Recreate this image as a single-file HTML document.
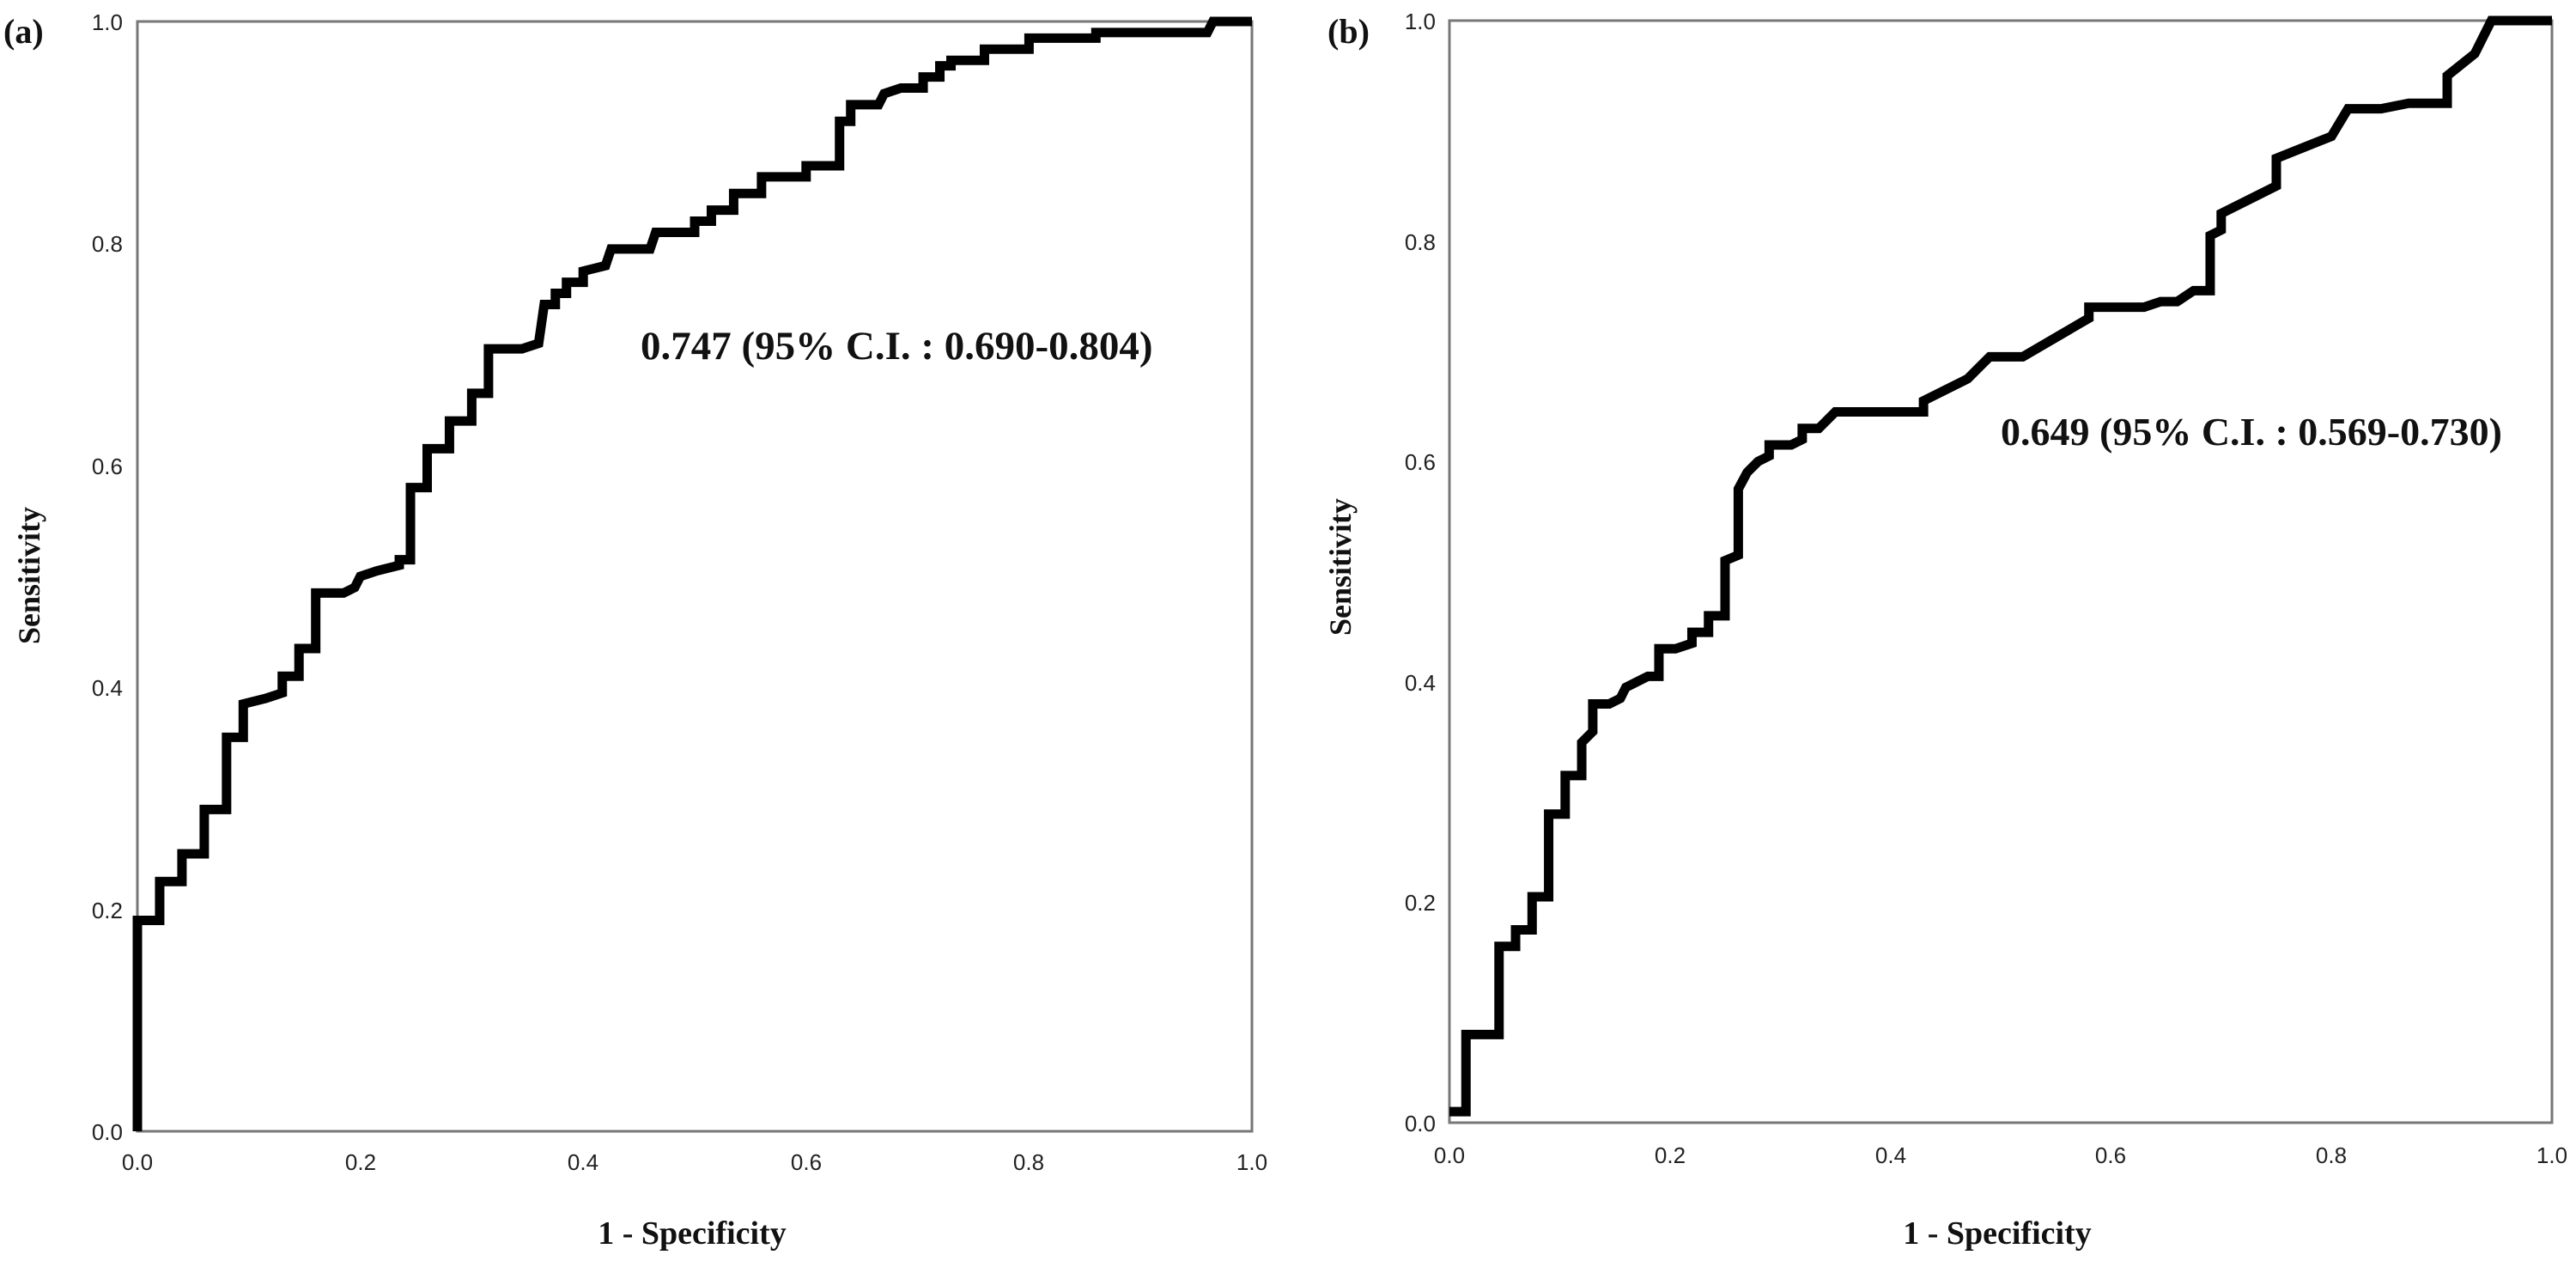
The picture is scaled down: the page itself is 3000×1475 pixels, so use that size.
<!DOCTYPE html>
<html><head><meta charset="utf-8"><style>
html,body{margin:0;padding:0;background:#fff;}
svg{display:block}
.t{font-family:"Liberation Sans",Arial,sans-serif;font-size:26px;fill:#222}
.b{font-family:"Liberation Serif","Times New Roman",serif;font-weight:bold;fill:#111}
</style></head><body>
<svg width="3000" height="1475" viewBox="0 0 3000 1475" xmlns="http://www.w3.org/2000/svg">
<!-- Panel a -->
<rect x="160" y="25" width="1298" height="1292" fill="none" stroke="#777" stroke-width="3"/>
<g transform="translate(160,1317) scale(1298,-1292)">
<polyline fill="none" stroke="#000" stroke-width="11" vector-effect="non-scaling-stroke" stroke-linejoin="miter" points="0,0 0,0.19 0.02,0.19 0.02,0.225 0.04,0.225 0.04,0.25 0.06,0.25 0.06,0.29 0.08,0.29 0.08,0.355 0.095,0.355 0.095,0.385 0.115,0.39 0.13,0.395 0.13,0.41 0.145,0.41 0.145,0.435 0.16,0.435 0.16,0.485 0.185,0.485 0.195,0.49 0.2,0.5 0.215,0.505 0.235,0.51 0.235,0.515 0.245,0.515 0.245,0.58 0.26,0.58 0.26,0.615 0.28,0.615 0.28,0.64 0.3,0.64 0.3,0.665 0.315,0.665 0.315,0.705 0.345,0.705 0.36,0.71 0.365,0.745 0.375,0.745 0.375,0.755 0.385,0.755 0.385,0.765 0.4,0.765 0.4,0.775 0.42,0.78 0.425,0.795 0.46,0.795 0.465,0.81 0.5,0.81 0.5,0.82 0.515,0.82 0.515,0.83 0.535,0.83 0.535,0.845 0.56,0.845 0.56,0.86 0.6,0.86 0.6,0.87 0.63,0.87 0.63,0.91 0.64,0.91 0.64,0.925 0.665,0.925 0.67,0.935 0.685,0.94 0.705,0.94 0.705,0.95 0.72,0.95 0.72,0.96 0.73,0.96 0.73,0.965 0.76,0.965 0.76,0.975 0.8,0.975 0.8,0.985 0.86,0.985 0.86,0.99 0.96,0.99 0.965,1 1,1"/>
</g>
<g class="t" text-anchor="end">
<text x="143" y="1327">0.0</text><text x="143" y="1069">0.2</text><text x="143" y="810">0.4</text><text x="143" y="552">0.6</text><text x="143" y="293">0.8</text><text x="143" y="35">1.0</text>
</g>
<g class="t" text-anchor="middle">
<text x="160" y="1362">0.0</text><text x="420" y="1362">0.2</text><text x="679" y="1362">0.4</text><text x="939" y="1362">0.6</text><text x="1198" y="1362">0.8</text><text x="1458" y="1362">1.0</text>
</g>
<text class="b" x="4" y="50" font-size="40">(a)</text>
<text class="b" x="46" y="670" font-size="36" text-anchor="middle" transform="rotate(-90 46 670)">Sensitivity</text>
<text class="b" x="806" y="1448" font-size="38" text-anchor="middle">1 - Specificity</text>
<text class="b" x="746" y="418" font-size="47">0.747 (95% C.I. : 0.690-0.804)</text>
<!-- Panel b -->
<rect x="1688" y="24" width="1284" height="1283" fill="none" stroke="#777" stroke-width="3"/>
<g transform="translate(1688,1307) scale(1284,-1283)">
<polyline fill="none" stroke="#000" stroke-width="11" vector-effect="non-scaling-stroke" points="0,0.01 0.015,0.01 0.015,0.08 0.045,0.08 0.045,0.16 0.06,0.16 0.06,0.175 0.075,0.175 0.075,0.205 0.09,0.205 0.09,0.28 0.105,0.28 0.105,0.315 0.12,0.315 0.12,0.345 0.13,0.355 0.13,0.38 0.145,0.38 0.155,0.385 0.16,0.395 0.18,0.405 0.19,0.405 0.19,0.43 0.205,0.43 0.22,0.435 0.22,0.445 0.235,0.445 0.235,0.46 0.25,0.46 0.25,0.51 0.262,0.515 0.262,0.575 0.27,0.59 0.28,0.6 0.29,0.605 0.29,0.615 0.31,0.615 0.32,0.62 0.32,0.63 0.335,0.63 0.35,0.645 0.43,0.645 0.43,0.655 0.47,0.675 0.48,0.685 0.49,0.695 0.52,0.695 0.58,0.73 0.58,0.74 0.63,0.74 0.645,0.745 0.66,0.745 0.675,0.755 0.69,0.755 0.69,0.805 0.7,0.81 0.7,0.825 0.75,0.85 0.75,0.875 0.8,0.895 0.815,0.92 0.845,0.92 0.87,0.925 0.905,0.925 0.905,0.95 0.93,0.97 0.945,1 1,1"/>
</g>
<g class="t" text-anchor="end">
<text x="1672" y="1317">0.0</text><text x="1672" y="1060">0.2</text><text x="1672" y="804">0.4</text><text x="1672" y="547">0.6</text><text x="1672" y="291">0.8</text><text x="1672" y="34">1.0</text>
</g>
<g class="t" text-anchor="middle">
<text x="1688" y="1354">0.0</text><text x="1945" y="1354">0.2</text><text x="2202" y="1354">0.4</text><text x="2458" y="1354">0.6</text><text x="2715" y="1354">0.8</text><text x="2972" y="1354">1.0</text>
</g>
<text class="b" x="1546" y="50" font-size="40">(b)</text>
<text class="b" x="1573" y="660" font-size="36" text-anchor="middle" transform="rotate(-90 1573 660)">Sensitivity</text>
<text class="b" x="2326" y="1448" font-size="38" text-anchor="middle">1 - Specificity</text>
<text class="b" x="2330" y="518" font-size="46">0.649 (95% C.I. : 0.569-0.730)</text>
</svg>
</body></html>
